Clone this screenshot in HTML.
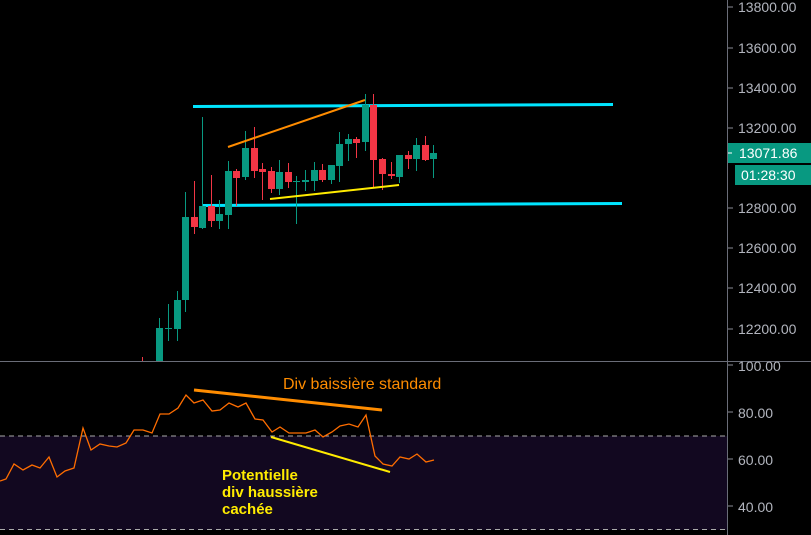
<!DOCTYPE html>
<html><head><meta charset="utf-8"><style>
html,body{margin:0;padding:0;background:#000;width:811px;height:535px;overflow:hidden}
svg{display:block}
.ax{font-family:"Liberation Sans",sans-serif;font-size:14px;fill:#b2b5be}
.t line{stroke:#089981}.t rect{fill:#089981}
.r line{stroke:#f23645}.r rect{fill:#f23645}
</style></head><body>
<svg width="811" height="535" xmlns="http://www.w3.org/2000/svg">
<rect width="811" height="535" fill="#000"/>
<rect x="0" y="436" width="727" height="94" fill="#120820"/>
<line x1="0" y1="436" x2="727" y2="436" stroke="#aaa" stroke-dasharray="5,4"/>
<line x1="0" y1="529.5" x2="727" y2="529.5" stroke="#aaa" stroke-dasharray="5,4"/>
<line x1="0" y1="361.5" x2="811" y2="361.5" stroke="#6a6d78"/>
<line x1="727.5" y1="0" x2="727.5" y2="535" stroke="#6a6d78"/>
<g stroke="#8a8d96">
<line x1="728" y1="7" x2="733" y2="7"/><line x1="728" y1="48" x2="733" y2="48"/><line x1="728" y1="88" x2="733" y2="88"/><line x1="728" y1="128" x2="733" y2="128"/><line x1="728" y1="208" x2="733" y2="208"/><line x1="728" y1="248" x2="733" y2="248"/><line x1="728" y1="288" x2="733" y2="288"/><line x1="728" y1="329" x2="733" y2="329"/>
<line x1="728" y1="365" x2="733" y2="365"/><line x1="728" y1="412" x2="733" y2="412"/><line x1="728" y1="459" x2="733" y2="459"/><line x1="728" y1="506" x2="733" y2="506"/>
</g>
<g class="ax">
<text x="738" y="12">13800.00</text><text x="738" y="53">13600.00</text><text x="738" y="93">13400.00</text><text x="738" y="133">13200.00</text><text x="738" y="213">12800.00</text><text x="738" y="253">12600.00</text><text x="738" y="293">12400.00</text><text x="738" y="334">12200.00</text>
<text x="738" y="371">100.00</text><text x="738" y="418">80.00</text><text x="738" y="465">60.00</text><text x="738" y="512">40.00</text>
</g>
<rect x="728" y="143" width="83" height="20" fill="#089981"/>
<line x1="728" y1="153" x2="732" y2="153" stroke="#fff"/>
<text x="739" y="158" font-family="Liberation Sans,sans-serif" font-size="14" fill="#fff">13071.86</text>
<rect x="735" y="165" width="76" height="20" fill="#089981"/>
<text x="741" y="180" font-family="Liberation Sans,sans-serif" font-size="14" fill="#fff">01:28:30</text>

<line x1="193" y1="106.5" x2="613" y2="104.5" stroke="#00e5ff" stroke-width="3"/>
<line x1="203" y1="205.5" x2="622" y2="203.5" stroke="#00e5ff" stroke-width="3"/>

<g class="r"><line x1="142.5" y1="357" x2="142.5" y2="361"/></g>
<g class="t">
<line x1="159.5" y1="318" x2="159.5" y2="361"/><rect x="156" y="328" width="7" height="33"/>
<line x1="168.5" y1="304" x2="168.5" y2="341"/><rect x="165" y="328" width="7" height="1"/>
<line x1="177.5" y1="291" x2="177.5" y2="341"/><rect x="174" y="300" width="7" height="29"/>
<line x1="185.5" y1="192" x2="185.5" y2="312"/><rect x="182" y="217" width="7" height="83"/>
<line x1="202.5" y1="117" x2="202.5" y2="229"/><rect x="199" y="206" width="7" height="22"/>
<line x1="219.5" y1="200" x2="219.5" y2="229"/><rect x="216" y="214" width="7" height="7"/>
<line x1="228.5" y1="161" x2="228.5" y2="229"/><rect x="225" y="171" width="7" height="44"/>
<line x1="245.5" y1="131" x2="245.5" y2="180"/><rect x="242" y="148" width="7" height="29"/>
<line x1="279.5" y1="160" x2="279.5" y2="195"/><rect x="276" y="172" width="7" height="17"/>
<line x1="296.5" y1="176" x2="296.5" y2="224"/><rect x="293" y="181" width="7" height="1"/>
<line x1="305.5" y1="170" x2="305.5" y2="191"/><rect x="302" y="180" width="7" height="2"/>
<line x1="314.5" y1="162" x2="314.5" y2="191"/><rect x="311" y="170" width="7" height="11"/>
<line x1="331.5" y1="165" x2="331.5" y2="184"/><rect x="328" y="165" width="7" height="15"/>
<line x1="339.5" y1="132" x2="339.5" y2="182"/><rect x="336" y="144" width="7" height="22"/>
<line x1="348.5" y1="134" x2="348.5" y2="161"/><rect x="345" y="139" width="7" height="5"/>
<line x1="365.5" y1="94" x2="365.5" y2="151"/><rect x="362" y="105" width="7" height="37"/>
<line x1="399.5" y1="155" x2="399.5" y2="183"/><rect x="396" y="155" width="7" height="22"/>
<line x1="416.5" y1="138" x2="416.5" y2="171"/><rect x="413" y="145" width="7" height="14"/>
<line x1="433.5" y1="145" x2="433.5" y2="178"/><rect x="430" y="153" width="7" height="6"/>
</g>
<g class="r">
<line x1="194.5" y1="181" x2="194.5" y2="234"/><rect x="191" y="217" width="7" height="10"/>
<line x1="211.5" y1="175" x2="211.5" y2="227"/><rect x="208" y="206" width="7" height="15"/>
<line x1="236.5" y1="169" x2="236.5" y2="206"/><rect x="233" y="171" width="7" height="7"/>
<line x1="254.5" y1="127" x2="254.5" y2="178"/><rect x="251" y="148" width="7" height="23"/>
<line x1="262.5" y1="163" x2="262.5" y2="200"/><rect x="259" y="169" width="7" height="3"/>
<line x1="271.5" y1="167" x2="271.5" y2="193"/><rect x="268" y="171" width="7" height="18"/>
<line x1="288.5" y1="163" x2="288.5" y2="188"/><rect x="285" y="172" width="7" height="10"/>
<line x1="322.5" y1="164" x2="322.5" y2="182"/><rect x="319" y="170" width="7" height="10"/>
<line x1="356.5" y1="137" x2="356.5" y2="158"/><rect x="353" y="139" width="7" height="4"/>
<line x1="373.5" y1="94" x2="373.5" y2="188"/><rect x="370" y="105" width="7" height="55"/>
<line x1="382.5" y1="158" x2="382.5" y2="190"/><rect x="379" y="159" width="7" height="15"/>
<line x1="391.5" y1="162" x2="391.5" y2="179"/><rect x="388" y="174" width="7" height="2"/>
<line x1="408.5" y1="151" x2="408.5" y2="169"/><rect x="405" y="155" width="7" height="4"/>
<line x1="425.5" y1="136" x2="425.5" y2="161"/><rect x="422" y="145" width="7" height="15"/>
</g>

<line x1="228" y1="147" x2="365" y2="100" stroke="#ff8c00" stroke-width="2"/>
<line x1="270" y1="199" x2="399" y2="185" stroke="#ffeb00" stroke-width="2"/>

<polyline fill="none" stroke="#ff6d00" stroke-width="1.3" points="0,481 6,479 14,464 23,470 32,465 40,468 49,457 57,477 65,471 74,468 83,428 91,450 100,444 109,446 117,447 126,443 134,430 143,430 152,433 160,414 169,414 178,408 186,395 194,403 203,400 212,411 220,410 229,403 238,407 246,403 255,419 263,420 272,432 280,427 289,433 298,433 306,433 315,430 323,437 332,432 340,426 349,424 358,427 366,415 375,456 383,464 392,466 400,457 409,459 417,454 426,462 434,460"/>
<line x1="194" y1="390" x2="382" y2="410" stroke="#ff8c00" stroke-width="3"/>
<line x1="271" y1="437" x2="390" y2="472" stroke="#ffeb00" stroke-width="2"/>
<text x="283" y="389" font-family="Liberation Sans,sans-serif" font-size="16" fill="#ff8c00">Div baissière standard</text>
<g font-family="Liberation Sans,sans-serif" font-size="15" font-weight="bold" fill="#ffeb00">
<text x="222" y="480">Potentielle</text><text x="222" y="497">div haussière</text><text x="222" y="514">cachée</text>
</g>
</svg>
</body></html>
